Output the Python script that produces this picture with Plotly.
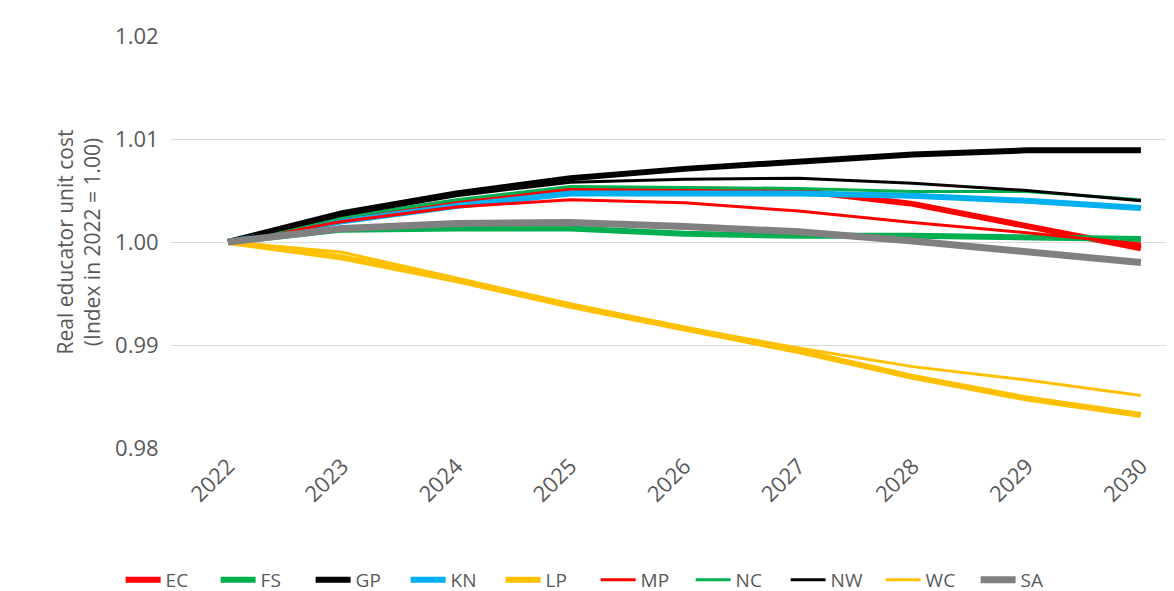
import plotly.graph_objects as go

years = ["2022","2023","2024","2025","2026","2027","2028","2029","2030"]
EC = [1.0,1.0022,1.0038,1.0051,1.0051,1.0050,1.0037,1.0016,0.9994]
FS = [1.0,1.0012,1.0013,1.0013,1.0008,1.0006,1.0006,1.0004,1.0003]
GP = [1.0,1.0028,1.0047,1.0062,1.0071,1.0078,1.0085,1.0089,1.0089]
KN = [1.0,1.0020,1.0035,1.0047,1.0047,1.0047,1.0045,1.0040,1.0033]
LP = [1.0,0.9985,0.9963,0.9938,0.9916,0.9894,0.9869,0.9848,0.9832]
MP = [1.0,1.0020,1.0034,1.0041,1.0038,1.0030,1.0019,1.0009,0.9998]
NC = [1.0,1.0024,1.0041,1.0054,1.0053,1.0052,1.0049,1.0049,1.0041]
NW = [1.0,1.0026,1.0045,1.0058,1.0061,1.0062,1.0057,1.0050,1.0040]
WC = [1.0,0.9990,0.9965,0.9940,0.9917,0.9897,0.9879,0.9866,0.9851]
SA = [1.0,1.0013,1.0018,1.0019,1.0015,1.0010,1.0001,0.9991,0.9980]

series = [("EC",EC,"#FF0000",6),("FS",FS,"#00B050",6),("GP",GP,"#000000",6),
          ("KN",KN,"#00B0F0",6),("LP",LP,"#FFC000",6),("MP",MP,"#FF0000",3),
          ("NC",NC,"#00B050",3),("NW",NW,"#000000",3),("WC",WC,"#FFC000",3),
          ("SA",SA,"#808080",7)]
fig = go.Figure()
for n, v, c, w in series:
    fig.add_trace(go.Scatter(x=years, y=v, name=n, mode="lines",
                             line=dict(color=c, width=w)))
fig.update_layout(
    width=1174, height=591, paper_bgcolor="white", plot_bgcolor="white",
    margin=dict(l=163, r=0, t=28, b=143),
    font=dict(family="Open Sans, Calibri, sans-serif", size=21, color="#595959"),
    legend=dict(orientation="h", x=0.42, xanchor="center", y=-0.32, yanchor="middle",
                font=dict(size=19), traceorder="normal", entrywidth=45, itemwidth=35),
    xaxis=dict(tickangle=-45, showgrid=False, showline=False, range=[-0.5, 8.36],
               tickfont=dict(size=22)),
    yaxis=dict(range=[0.98,1.02], dtick=0.01, tickformat=".2f", gridcolor="#d9d9d9",
               zeroline=False, tickfont=dict(size=22), ticksuffix="  ",
               title=dict(text="Real educator unit cost<br>(Index in 2022 = 1.00)", standoff=8,
                          font=dict(size=21))),
)
fig.write_html("out.html")
